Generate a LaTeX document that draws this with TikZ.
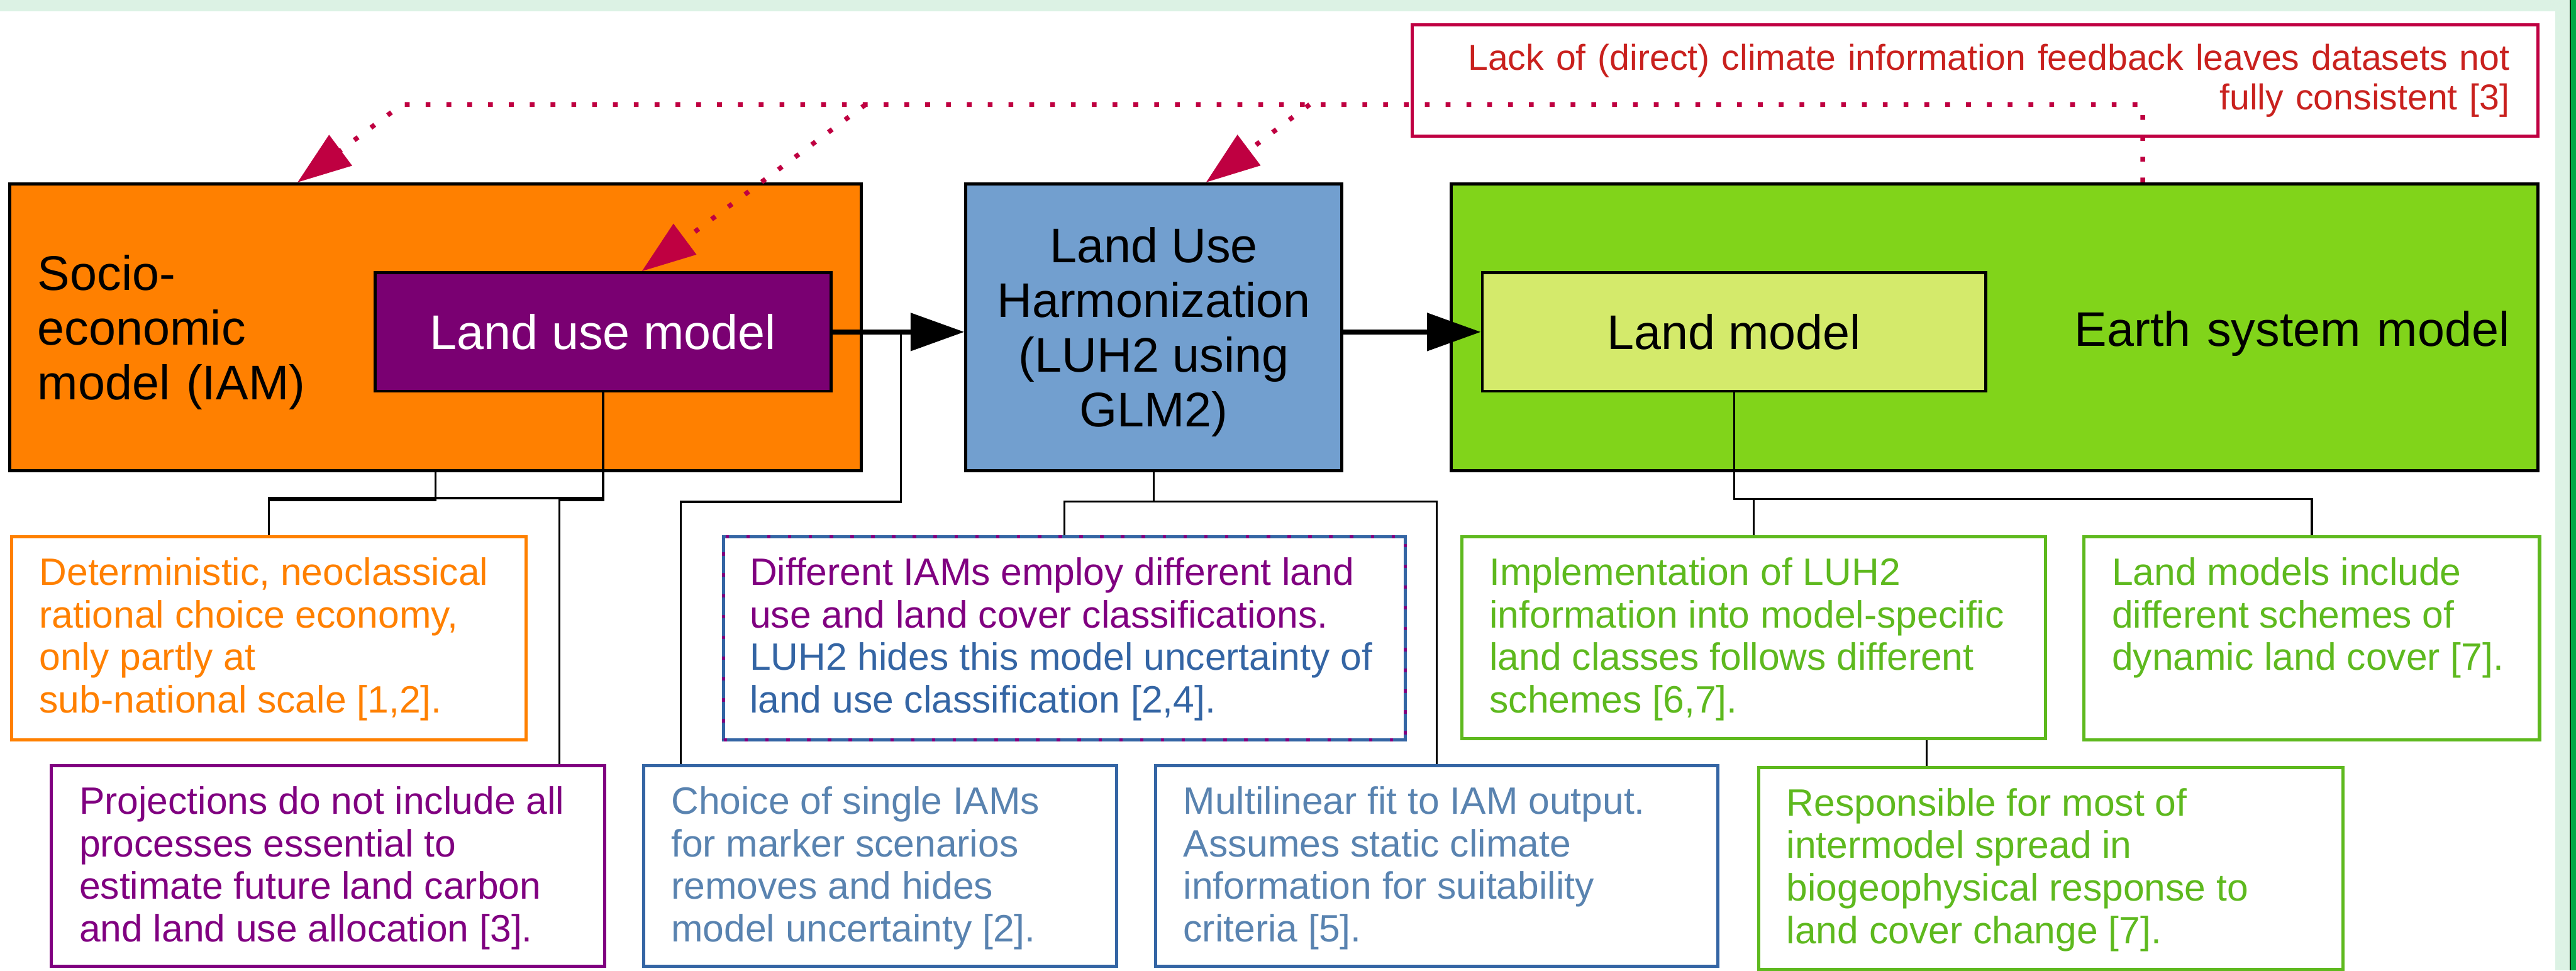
\documentclass[tikz,border=0pt]{standalone}
\usepackage{fontspec}
\setmainfont{Liberation Sans}
\usetikzlibrary{arrows.meta,calc}
\definecolor{mint}{HTML}{DCF2E4}
\definecolor{rightgreen}{HTML}{00A846}
\definecolor{orangefill}{HTML}{FF8000}
\definecolor{lumfill}{HTML}{7A0072}
\definecolor{luhfill}{HTML}{729FCF}
\definecolor{esmfill}{HTML}{81D41A}
\definecolor{lmfill}{HTML}{D4EA6B}
\definecolor{noteorange}{HTML}{FF8000}
\definecolor{notepurple}{HTML}{800080}
\definecolor{darkblue}{HTML}{3465A4}
\definecolor{lightblue}{HTML}{5983B0}
\definecolor{notegreen}{HTML}{5EB91E}
\definecolor{redtext}{HTML}{C9211E}
\definecolor{crimson}{HTML}{BF0041}
\newcommand\bigf{\fontsize{31.9pt}{35.85pt}\selectfont}
\newcommand\notef{\fontsize{25pt}{27.9pt}\selectfont}
\newcommand\redf{\fontsize{23.6pt}{25.9pt}\selectfont}
\newcommand\notecontent[3]{\begin{minipage}[t][#1][t]{#2}\begin{tabular}[t]{@{}l@{}}#3\end{tabular}\end{minipage}}
\newcommand\topstrut[1]{\rule{0pt}{#1}}
\begin{document}
\begin{tikzpicture}[x=1cm,y=-1cm,
  bigbox/.style={draw=black, line width=0.07cm, inner sep=0pt, font=\bigf},
  note/.style={draw=#1, text=#1, line width=0.075cm, anchor=north west, inner xsep=0.64cm, inner ysep=0.43cm, font=\notef},
  conn/.style={draw=black, line width=0.05cm},
  mainarrow/.style={draw=black, line width=0.11cm, -{Triangle[length=1.24cm,width=0.86cm]}},
  fb/.style={draw=crimson, line width=0.11cm, dash pattern=on 0.11cm off 0.37cm, -{Triangle[length=1.24cm,width=0.86cm]}}]
% background
\fill[mint] (0,0) rectangle (59.40,22.38);
\fill[white] (0,0.26) rectangle (58.92,22.38);
\fill[black!85!green] (59.26,0) rectangle (59.29,22.38);
\fill[rightgreen] (59.29,0) rectangle (59.40,22.38);
\useasboundingbox (0,0) rectangle (59.40,22.38);

% red remark box
\node[draw=crimson, line width=0.075cm, text=redtext, font=\redf, align=right,
      text width=24.66cm, inner xsep=0.65cm, inner ysep=0pt, minimum height=2.57cm]
      (lack) at (45.54,1.855) {Lack of (direct) climate information feedback leaves datasets not\\fully consistent [3]};

% main boxes
\node[bigbox, fill=orangefill, minimum width=19.63cm, minimum height=6.61cm,
      text width=18.35cm, inner xsep=0.64cm, align=left] (socio) at (10.045,7.545)
      {\topstrut{1.05cm}Socio-\\economic\\model (IAM)};
\node[bigbox, fill=lumfill, text=white, minimum width=10.51cm, minimum height=2.73cm, align=center]
      (lum) at (13.905,7.655) {Land use model};
\node[bigbox, fill=luhfill, minimum width=8.67cm, minimum height=6.61cm, align=center]
      (luh) at (26.605,7.545) {\topstrut{1.04cm}Land Use\\Harmonization\\(LUH2 using\\GLM2)};
\node[bigbox, fill=esmfill, minimum width=25.06cm, minimum height=6.61cm,
      text width=23.76cm, inner xsep=0.65cm, align=right] (esm) at (45.99,7.545)
      {\topstrut{1.12cm}Earth system model};
\node[bigbox, fill=lmfill, minimum width=11.61cm, minimum height=2.73cm, align=center]
      (lm) at (39.985,7.655) {Land model};

% main arrows
\draw[mainarrow] (lum.east) -- (lum.east -| luh.west);
\draw[mainarrow] (luh.east |- lm.west) -- (lm.west);

% feedback dotted arrows
\coordinate (fbA) at (49.41,2.41);
\coordinate (fbB) at (9.27,2.41);
\coordinate (fbC) at (6.86,0);
\coordinate (fbD) at (19.96,2.41);
\coordinate (fbE) at (14.80,0);
\coordinate (fbF) at (30.20,2.41);
\coordinate (fbG) at (27.81,0);
\draw[fb] (fbA |- esm.north) -- (fbA) -- (fbB) -- (fbC |- socio.north);
\draw[fb] (fbD) -- (fbE |- lum.north);
\draw[fb] (fbF) -- (fbG |- luh.north);

% notes
\node[note=noteorange] (onote) at (0.23,12.34)
  {\notecontent{3.82cm}{10.58cm}{Deterministic, neoclassical\\rational choice economy,\\only partly at\\sub-national scale [1,2].}};
\node[note=notepurple] (pnote) at (1.15,17.62)
  {\notecontent{3.77cm}{11.47cm}{Projections do not include all\\processes essential to\\estimate future land carbon\\and land use allocation [3].}};
\node[note=darkblue, inner xsep=0.6cm,
      postaction={draw=notepurple, dash pattern=on 0.08cm off 0.40cm, line width=0.075cm}] (dnote) at (16.65,12.34)
  {\notecontent{3.82cm}{14.52cm}{\textcolor{notepurple}{Different IAMs employ different land}\\\textcolor{notepurple}{use and land cover classifications.}\\\textcolor{darkblue}{LUH2 hides this model uncertainty of}\\\textcolor{darkblue}{land use classification [2,4].}}};
\node[note=darkblue, text=lightblue] (cnote) at (14.80,17.62)
  {\notecontent{3.77cm}{9.63cm}{Choice of single IAMs\\for marker scenarios\\removes and hides\\model uncertainty [2].}};
\node[note=darkblue, text=lightblue] (mnote) at (26.61,17.62)
  {\notecontent{3.77cm}{11.69cm}{Multilinear fit to IAM output.\\Assumes static climate\\information for suitability\\criteria [5].}};
\node[note=notegreen] (inote) at (33.67,12.34)
  {\notecontent{3.79cm}{12.18cm}{Implementation of LUH2\\information into model-specific\\land classes follows different\\schemes [6,7].}};
\node[note=notegreen] (lnote) at (48.02,12.34)
  {\notecontent{3.82cm}{9.22cm}{Land models include\\different schemes of\\dynamic land cover [7].}};
\node[note=notegreen] (rnote) at (40.52,17.66)
  {\notecontent{3.80cm}{12.19cm}{Responsible for most of\\intermodel spread in\\biogeophysical response to\\land cover change [7].}};

% connectors
\coordinate (c1) at (12.90,11.50);
\coordinate (j1) at (20.77,7.71);
\coordinate (c2) at (15.70,11.57);
\coordinate (c3) at (44.43,0);
\draw[conn] (socio.south) -- ++(0,0.65) -| (onote.north);
\draw[conn] (lum.south) -- ++(0,2.43) -| (onote.north);
\draw[conn] (lum.south) -- ++(0,2.48) -| (c1 |- pnote.north);
\draw[conn] (j1) -- (j1 |- c2) -| (c2 |- cnote.north);
\draw[conn] (luh.south) -- ++(0,0.68) -| (dnote.north);
\draw[conn] (luh.south) -- ++(0,0.68) -| (mnote.north);
\draw[conn] (lm.south) -- ++(0,2.45) -| (inote.north);
\draw[conn] (lm.south) -- ++(0,2.45) -| (lnote.north);
\draw[conn] (c3 |- inote.south) -- (c3 |- rnote.north);
\end{tikzpicture}
\end{document}
